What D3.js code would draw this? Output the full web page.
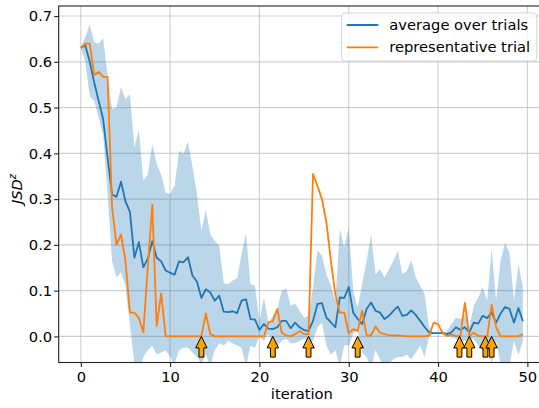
<!DOCTYPE html>
<html>
<head>
<meta charset="utf-8">
<script src="https://cdn.jsdelivr.net/npm/d3@7"></script>
<style>
    body { margin: 0; background: #fff; }
    svg { display: block; font-family: 'DejaVu Sans', sans-serif; }
    .axis path, .axis line { stroke: #222; }
    .axis text { fill: #000; font-size: 14.7px; font-family: 'DejaVu Sans', sans-serif; }
    .grid line { stroke: #b0b0b0; stroke-opacity: 0.6; stroke-width: 1.1; }
</style>
</head>
<body>
<div id="chart"></div>
<script>
// iterations run 0 .. 49.5 in steps of 0.5
const iterations = d3.range(0, 50, 0.5);

// average over trials (blue line)
const meanJsd = [
    0.631, 0.636, 0.600, 0.555, 0.515, 0.475, 0.390, 0.310, 0.305, 0.338,
    0.295, 0.272, 0.172, 0.206, 0.151, 0.170, 0.208, 0.172, 0.164, 0.144,
    0.139, 0.135, 0.164, 0.162, 0.173, 0.133, 0.120, 0.084, 0.103, 0.096,
    0.078, 0.089, 0.054, 0.053, 0.055, 0.051, 0.078, 0.081, 0.038, 0.037,
    0.014, 0.027, 0.017, 0.016, 0.020, 0.034, 0.034, 0.018, 0.030, 0.020,
    0.014, 0.012, 0.034, 0.071, 0.073, 0.041, 0.031, 0.020, 0.085, 0.084,
    0.108, 0.052, 0.038, 0.027, 0.060, 0.074, 0.056, 0.052, 0.038, 0.045,
    0.056, 0.065, 0.045, 0.047, 0.057, 0.047, 0.034, 0.020, 0.009, 0.007,
    0.007, 0.007, 0.005, 0.009, 0.020, 0.014, 0.020, 0.009, 0.030, 0.028,
    0.045, 0.040, 0.052, 0.030, 0.050, 0.064, 0.060, 0.030, 0.062, 0.033
];

// shaded band, upper and lower edge
const bandUpper = [
    0.631, 0.655, 0.681, 0.642, 0.640, 0.651, 0.570, 0.496, 0.501, 0.545,
    0.518, 0.529, 0.413, 0.453, 0.340, 0.354, 0.420, 0.376, 0.354, 0.314,
    0.311, 0.329, 0.405, 0.399, 0.426, 0.372, 0.311, 0.231, 0.276, 0.223,
    0.209, 0.198, 0.116, 0.114, 0.122, 0.127, 0.180, 0.225, 0.114, 0.111,
    0.035, 0.085, 0.030, 0.045, 0.060, 0.100, 0.105, 0.067, 0.072, 0.056,
    0.041, 0.045, 0.107, 0.189, 0.176, 0.136, 0.111, 0.078, 0.234, 0.194,
    0.238, 0.100, 0.063, 0.114, 0.165, 0.223, 0.136, 0.147, 0.129, 0.147,
    0.165, 0.187, 0.136, 0.143, 0.167, 0.129, 0.111, 0.092, 0.020, 0.007,
    0.007, 0.009, 0.012, 0.027, 0.041, 0.038, 0.049, 0.020, 0.067, 0.085,
    0.107, 0.078, 0.191, 0.078, 0.165, 0.205, 0.183, 0.078, 0.158, 0.107
];

const bandLower = [
    0.631, 0.600, 0.525, 0.515, 0.478, 0.440, 0.310, 0.165, 0.129, 0.140,
    0.110, 0.025, -0.060, -0.075, -0.045, -0.030, -0.020, -0.040, -0.035, -0.030,
    -0.045, -0.060, -0.030, -0.025, -0.025, -0.035, -0.045, -0.060, -0.040, -0.065,
    -0.030, -0.015, -0.020, -0.010, -0.015, -0.020, -0.025, -0.065, -0.020, -0.025,
    0.000, -0.010, 0.005, -0.015, -0.020, -0.010, -0.005, -0.015, -0.015, -0.010,
    -0.005, -0.010, -0.010, 0.020, 0.030, -0.020, -0.040, -0.030, -0.065, -0.020,
    -0.020, 0.005, 0.015, -0.035, -0.045, -0.070, -0.030, -0.050, -0.070, -0.060,
    -0.050, -0.045, -0.045, -0.040, -0.050, -0.035, -0.020, -0.045, 0.000, 0.005,
    0.006, 0.005, 0.000, -0.002, -0.005, -0.010, -0.010, -0.005, -0.005, -0.020,
    -0.030, -0.020, -0.060, -0.010, -0.060, -0.070, -0.065, -0.010, -0.040, -0.010
];

// representative trial (orange line)
const reprJsd = [
    0.630, 0.640, 0.640, 0.571, 0.578, 0.567, 0.567, 0.282, 0.200, 0.223,
    0.165, 0.052, 0.052, 0.040, 0.009, 0.150, 0.288, 0.023, 0.094, 0.000,
    0.000, 0.000, 0.000, 0.000, 0.000, 0.000, 0.000, 0.000, 0.050, 0.005,
    0.000, 0.000, 0.000, 0.000, 0.000, 0.000, 0.000, 0.000, 0.000, 0.000,
    0.000, 0.000, 0.031, 0.033, 0.060, 0.008, 0.002, 0.000, 0.005, 0.012,
    0.005, 0.005, 0.355, 0.329, 0.300, 0.249, 0.165, 0.092, 0.052, 0.052,
    0.007, 0.016, 0.012, 0.056, 0.002, 0.002, 0.022, 0.008, 0.005, 0.003,
    0.002, 0.002, 0.001, 0.000, 0.000, 0.000, 0.000, 0.000, 0.002, 0.030,
    0.027, 0.008, 0.001, 0.004, 0.001, 0.000, 0.074, 0.001, 0.008, 0.001,
    0.000, 0.000, 0.069, 0.020, 0.000, 0.000, 0.000, 0.000, 0.000, 0.005
];

// iterations marked with an arrow
const markers = [13.5, 21.5, 25.5, 31, 42.4, 43.5, 45.3, 46];

const xTicks = [0, 10, 20, 30, 40, 50];
const yTicks = [0.0, 0.1, 0.2, 0.3, 0.4, 0.5, 0.6, 0.7];
const seriesNames = ['average over trials', 'representative trial'];

const blue = '#1f77b4';
const orange = '#ff7f0e';

class JsdChart {
    constructor(parentElement) {
        this.parentElement = parentElement;
        this.initVis();
    }

    initVis() {
        let vis = this;

        vis.width = 539;
        vis.height = 408;
        vis.plot = { left: 58.7, right: 545, top: 6, bottom: 362.5 };

        vis.svg = d3.select('#' + vis.parentElement)
            .append('svg')
            .attr('width', vis.width)
            .attr('height', vis.height);

        // Scales
        vis.x = d3.scaleLinear().domain([-2.475, 51.975]).range([vis.plot.left, vis.plot.right]);
        vis.y = d3.scaleLinear().domain([-0.057, 0.722]).range([vis.plot.bottom, vis.plot.top]);

        vis.svg.append('clipPath').attr('id', 'plot-clip')
            .append('rect')
            .attr('x', vis.plot.left)
            .attr('y', vis.plot.top)
            .attr('width', vis.plot.right - vis.plot.left)
            .attr('height', vis.plot.bottom - vis.plot.top);

        // grid
        let grid = vis.svg.append('g').attr('class', 'grid');
        grid.selectAll('.gx').data(xTicks).enter().append('line')
            .attr('x1', d => vis.x(d)).attr('x2', d => vis.x(d))
            .attr('y1', vis.plot.top).attr('y2', vis.plot.bottom);
        grid.selectAll('.gy').data(yTicks).enter().append('line')
            .attr('x1', vis.plot.left).attr('x2', vis.plot.right)
            .attr('y1', d => vis.y(d)).attr('y2', d => vis.y(d));

        vis.drawData();
        vis.drawAxes();
        vis.drawLegend();
    }

    drawData() {
        let vis = this;

        let rows = iterations.map((it, i) => ({
            it: it,
            mean: meanJsd[i],
            hi: bandUpper[i],
            lo: bandLower[i],
            repr: reprJsd[i]
        }));

        let g = vis.svg.append('g').attr('clip-path', 'url(#plot-clip)');

        let band = d3.area()
            .x(d => vis.x(d.it))
            .y0(d => vis.y(d.lo))
            .y1(d => vis.y(d.hi));

        g.append('path')
            .datum(rows)
            .attr('d', band)
            .attr('fill', blue)
            .attr('fill-opacity', 0.3);

        let meanLine = d3.line().x(d => vis.x(d.it)).y(d => vis.y(d.mean));
        let reprLine = d3.line().x(d => vis.x(d.it)).y(d => vis.y(d.repr));

        g.append('path')
            .datum(rows)
            .attr('d', meanLine)
            .attr('fill', 'none')
            .attr('stroke', blue)
            .attr('stroke-width', 1.8)
            .attr('stroke-linejoin', 'round');

        g.append('path')
            .datum(rows)
            .attr('d', reprLine)
            .attr('fill', 'none')
            .attr('stroke', orange)
            .attr('stroke-width', 1.8)
            .attr('stroke-linejoin', 'round');

        // up arrows, tip sits on zero
        let arrowShape = [[0, 0], [5.7, 11.5], [2.4, 11.5], [2.4, 20.7],
            [-2.4, 20.7], [-2.4, 11.5], [-5.7, 11.5]];

        g.selectAll('.marker')
            .data(markers)
            .enter()
            .append('polygon')
            .attr('class', 'marker')
            .attr('points', arrowShape.map(p => p.join(',')).join(' '))
            .attr('transform', d => `translate(${vis.x(d)},${vis.y(0)})`)
            .attr('fill', '#ffa500')
            .attr('stroke', '#000')
            .attr('stroke-width', 1)
            .attr('stroke-linejoin', 'miter');
    }

    drawAxes() {
        let vis = this;

        let xAxis = d3.axisBottom(vis.x).tickValues(xTicks).tickFormat(d3.format('d'))
            .tickSize(4.5).tickPadding(4.7).tickSizeOuter(0);
        let yAxis = d3.axisLeft(vis.y).tickValues(yTicks).tickFormat(d3.format('.1f'))
            .tickSize(4.5).tickPadding(2).tickSizeOuter(0);

        let gx = vis.svg.append('g')
            .attr('class', 'axis x-axis')
            .attr('transform', `translate(0, ${vis.plot.bottom})`)
            .call(xAxis);
        let gy = vis.svg.append('g')
            .attr('class', 'axis y-axis')
            .attr('transform', `translate(${vis.plot.left}, 0)`)
            .call(yAxis);

        gx.select('.domain').remove();
        gy.select('.domain').remove();
        vis.svg.selectAll('.axis .tick line').attr('stroke-width', 1.1);

        // spines
        vis.svg.append('rect')
            .attr('x', vis.plot.left)
            .attr('y', vis.plot.top)
            .attr('width', vis.plot.right - vis.plot.left)
            .attr('height', vis.plot.bottom - vis.plot.top)
            .attr('fill', 'none')
            .attr('stroke', '#222')
            .attr('stroke-width', 1.1);

        // titles
        vis.svg.append('text')
            .attr('x', (vis.plot.left + vis.plot.right) / 2)
            .attr('y', 399)
            .attr('text-anchor', 'middle')
            .attr('font-size', '14.7px')
            .text('iteration');

        let ylab = vis.svg.append('text')
            .attr('transform', 'translate(21.5, 189) rotate(-90)')
            .attr('text-anchor', 'middle')
            .attr('font-size', '14.7px')
            .attr('font-style', 'italic');
        ylab.append('tspan').text('JSD');
        ylab.append('tspan').attr('dy', -6).attr('font-size', '10px').text('z');
    }

    drawLegend() {
        let vis = this;

        let lg = vis.svg.append('g').attr('class', 'legend');
        lg.append('rect')
            .attr('x', 341.7).attr('y', 13)
            .attr('width', 195).attr('height', 48)
            .attr('rx', 3)
            .attr('fill', '#fff').attr('fill-opacity', 0.8)
            .attr('stroke', '#cccccc').attr('stroke-opacity', 0.8);

        let items = lg.selectAll('.item')
            .data(seriesNames)
            .enter()
            .append('g')
            .attr('class', 'item')
            .attr('transform', (d, i) => `translate(0, ${25 + i * 22.3})`);

        items.append('line')
            .attr('x1', 346.7).attr('x2', 378.3)
            .attr('stroke', (d, i) => [blue, orange][i])
            .attr('stroke-width', 1.8);

        items.append('text')
            .attr('x', 389.3)
            .attr('dy', '0.35em')
            .attr('font-size', '14.7px')
            .text(d => d);
    }
}

new JsdChart('chart');
</script>
</body>
</html>
